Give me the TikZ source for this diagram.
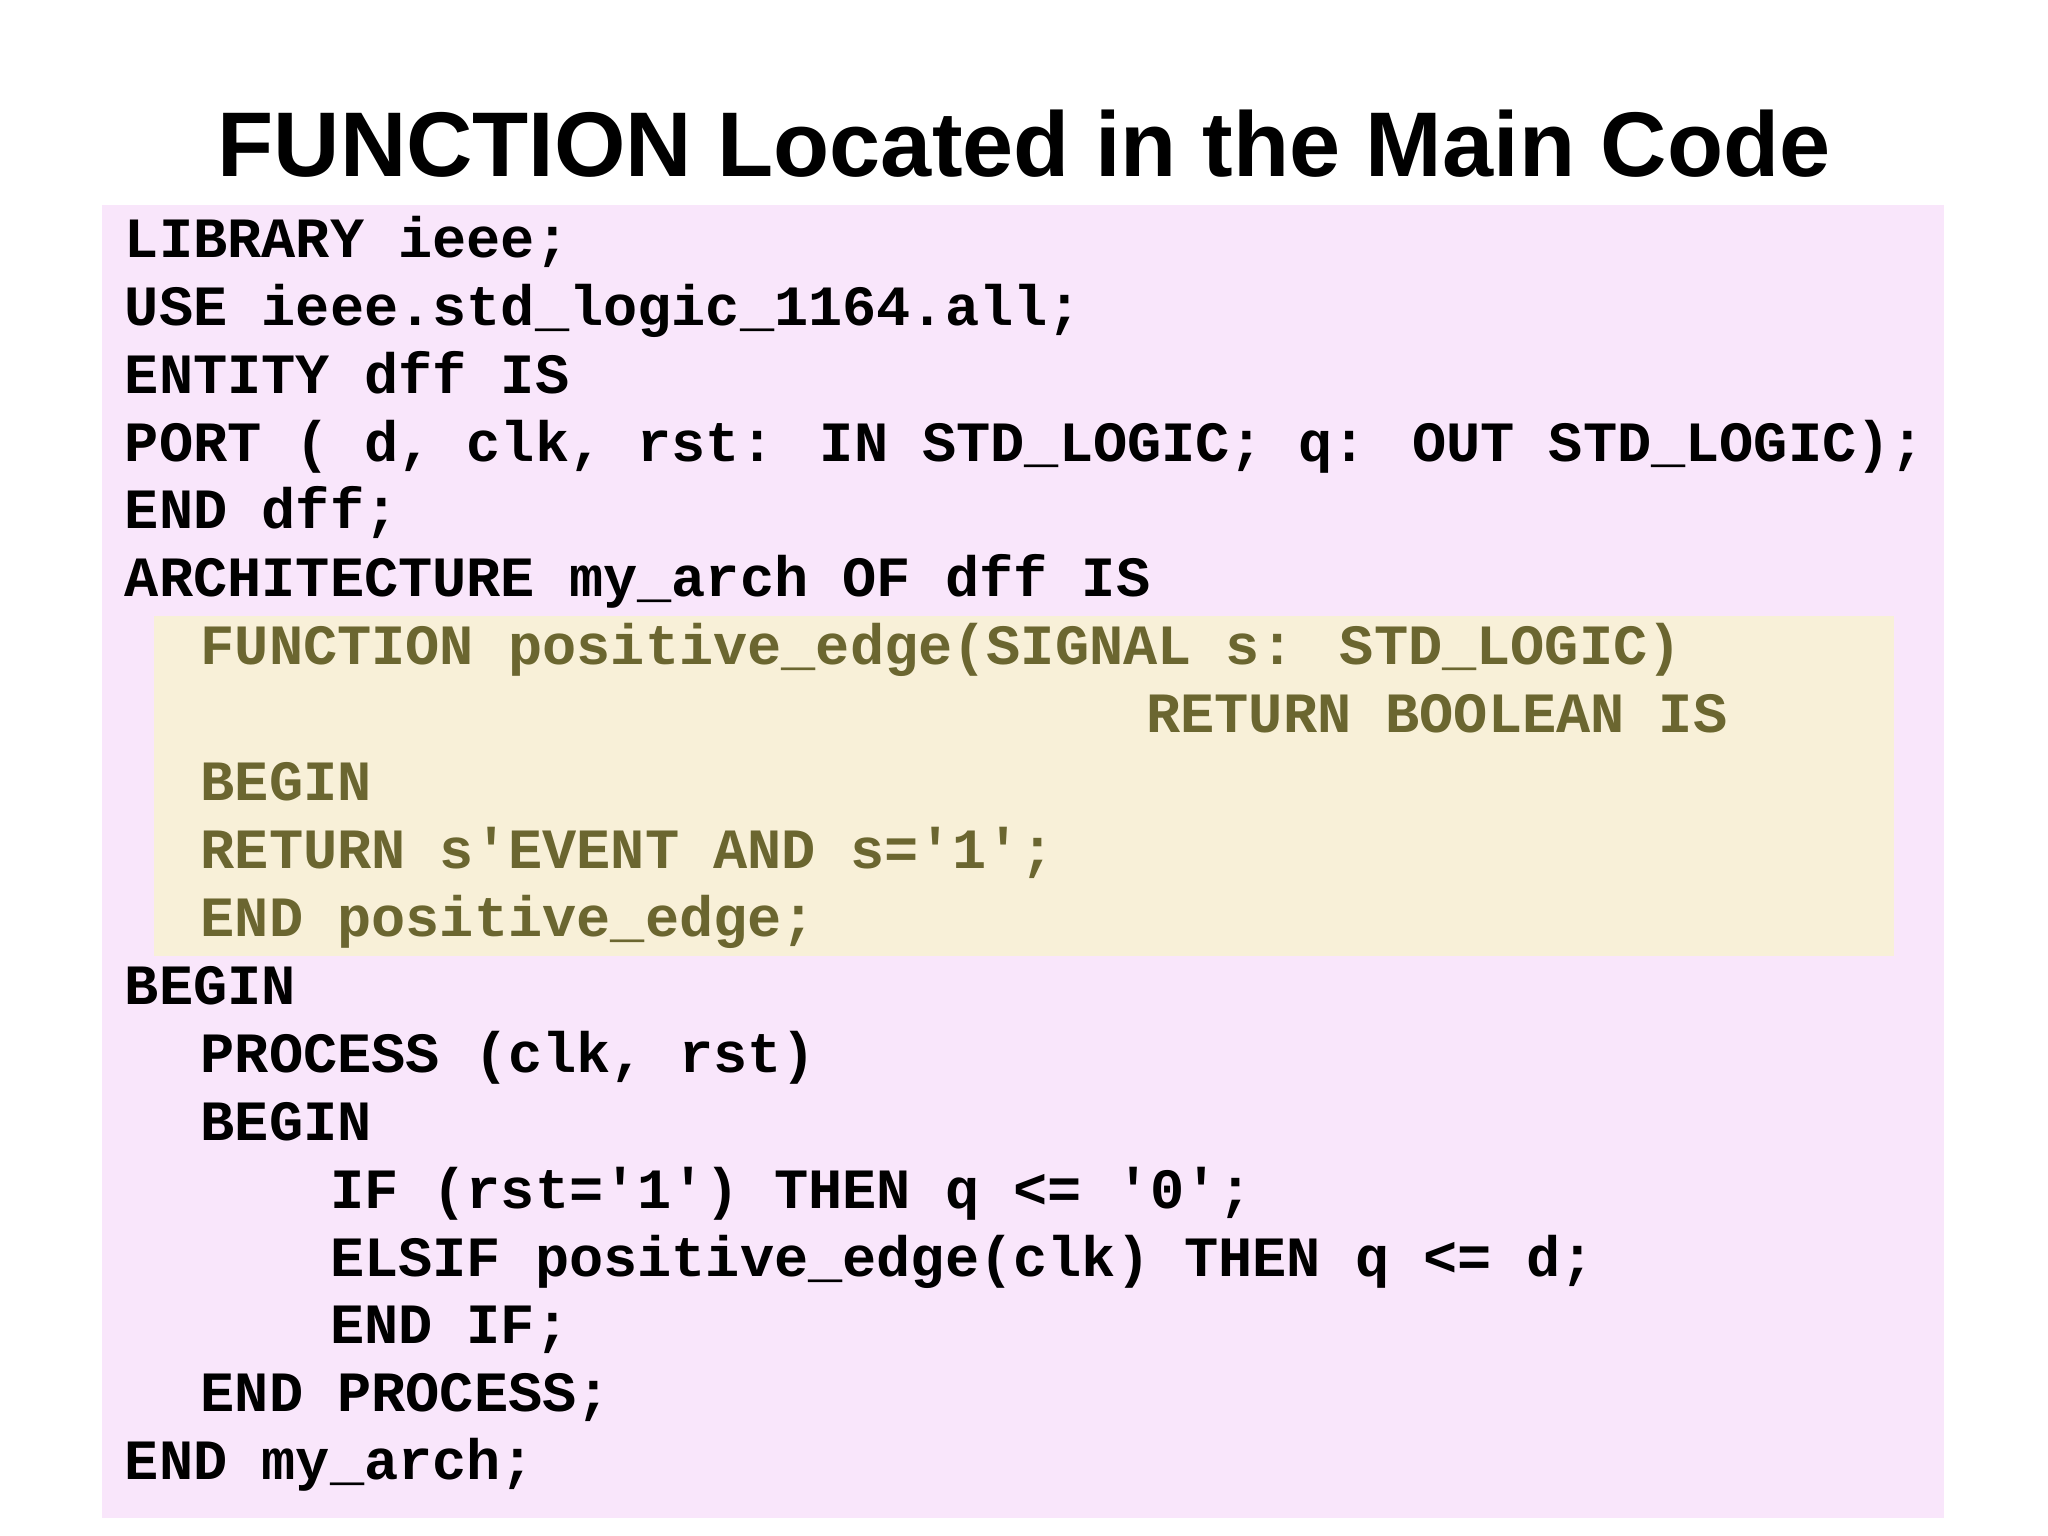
\documentclass[tikz,border=0pt]{standalone}
\usepackage{fontspec}
\setmainfont{Liberation Sans}
\newfontfamily\codefont{Liberation Mono}
\definecolor{pinkbg}{HTML}{F9E6FB}
\definecolor{yelbg}{HTML}{F8F0D8}
\definecolor{olive}{HTML}{6B6630}
\begin{document}
\begin{tikzpicture}[x=0.01cm,y=-0.01cm,
  code/.style={anchor=base west,inner sep=0pt,font=\codefont\bfseries\fontsize{12.4pt}{14pt}\selectfont},
  fcode/.style={code,text=olive}]
\useasboundingbox (0,0) rectangle (1568,1176);
\fill[pinkbg] (78,157) rectangle (1488,1162);
\fill[yelbg] (118,472) rectangle (1450,732);
\node[font=\bfseries\fontsize{20pt}{24pt}\selectfont] (title) at (784,110) {FUNCTION Located in the Main Code};
\node[code] (l1) at (95,197) {LIBRARY ieee;};
\node[code] (l2) at (95,249) {USE ieee.std\_logic\_1164.all;};
\node[code] (l3) at (95,301) {ENTITY dff IS};
\node[code] (l4) at (95,353) {PORT ( d, clk, rst: IN STD\_LOGIC; q: OUT STD\_LOGIC);};
\node[code] (l5) at (95,405) {END dff;};
\node[code] (l6) at (95,457) {ARCHITECTURE my\_arch OF dff IS};
\node[fcode] (l7) at (153,509) {FUNCTION positive\_edge(SIGNAL s: STD\_LOGIC)};
\node[fcode] (l8) at (877,561) {RETURN BOOLEAN IS};
\node[fcode] (l9) at (153,613) {BEGIN};
\node[fcode] (l10) at (153,665) {RETURN s'EVENT AND s='1';};
\node[fcode] (l11) at (153,717) {END positive\_edge;};
\node[code] (l12) at (95,769) {BEGIN};
\node[code] (l13) at (153,821) {PROCESS (clk, rst)};
\node[code] (l14) at (153,873) {BEGIN};
\node[code] (l15) at (252,925) {IF (rst='1') THEN q <= '0';};
\node[code] (l16) at (252,977) {ELSIF positive\_edge(clk) THEN q <= d;};
\node[code] (l17) at (252,1029) {END IF;};
\node[code] (l18) at (153,1081) {END PROCESS;};
\node[code] (l19) at (95,1133) {END my\_arch;};
\end{tikzpicture}
\end{document}
